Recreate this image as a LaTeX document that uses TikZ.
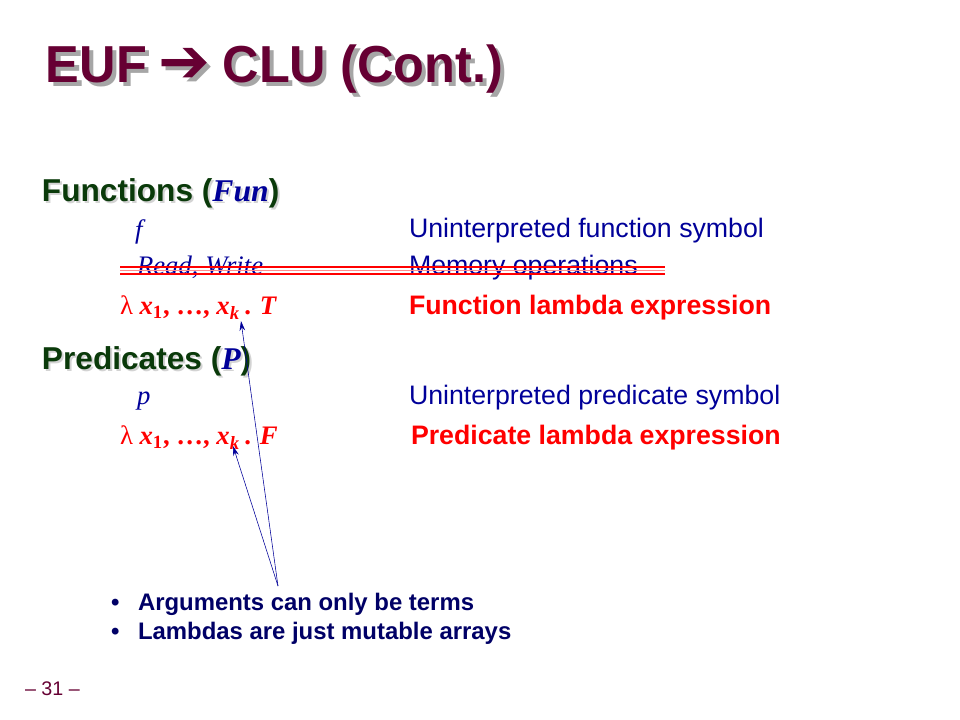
\documentclass[tikz,border=0pt]{standalone}
\usepackage{fontspec}
\setmainfont{Liberation Serif}
\setsansfont{Liberation Sans}
\newfontfamily\arrowfont{DejaVu Sans}
\newfontfamily\titlefont[FakeStretch=0.97]{Liberation Sans}
\usepackage{xcolor}
\usetikzlibrary{positioning,arrows.meta}
\definecolor{titlered}{HTML}{660033}
\definecolor{headgreen}{HTML}{0A3A0A}
\definecolor{navy}{HTML}{000099}
\definecolor{bulletblue}{HTML}{000066}
\definecolor{shadowgray}{HTML}{A6A6A6}
\tikzset{
  txt/.style={anchor=base west, inner sep=0pt, outer sep=0pt},
  titletext/.style={txt, font=\titlefont\bfseries\fontsize{37}{40}\selectfont},
  headtext/.style={txt, font=\sffamily\bfseries\fontsize{22.5}{25}\selectfont},
  symtext/.style={txt, font=\itshape\fontsize{19}{22}\selectfont, text=navy},
  desctext/.style={txt, font=\sffamily\fontsize{19}{22}\selectfont, text=navy},
  lamtext/.style={txt, font=\bfseries\fontsize{19}{22}\selectfont, text=red},
  lamdesc/.style={txt, font=\sffamily\bfseries\fontsize{19}{22}\selectfont, text=red},
  bullettext/.style={txt, font=\sffamily\bfseries\fontsize{17}{20}\selectfont, text=bulletblue},
  pointer/.style={-{Stealth[length=7pt,width=4pt]}, navy, thin}
}
\newcommand{\titlestr}{EUF\hspace{-2pt} {\arrowfont\bfseries\fontsize{44}{44}\selectfont\char"2794}\hspace{-1pt} CLU (Cont.)}
\newcommand{\lamstr}[1]{\textmd{λ} \textit{x}\textsubscript{1}, …, \textit{x}\textsubscript{\textit{k}}\,. \textit{#1}}

\begin{document}
\begin{tikzpicture}[x=0.025cm, y=-0.025cm]
\useasboundingbox[fill=white] (0,0) rectangle (960,720);
% title with shadow
\node[titletext, text=shadowgray] (titleshadow) at (50,87) {\titlestr};
\node[titletext, text=titlered] (title) at (46,83) {\titlestr};
% functions
\node[headtext, text=shadowgray!50] (funshadow) at (44,204) {Functions (\textit{\rmfamily Fun})};
\node[headtext, text=headgreen] (funhead) at (42,202) {Functions (\textcolor{navy}{\rmfamily\itshape Fun})};
\node[symtext] (fsym) at (135,239) {f};
\node[desctext] (fdesc) at (409,238) {Uninterpreted function symbol};
\node[symtext] (rwsym) at (137,275) {Read, Write};
\node[desctext] (rwdesc) at (409,275) {Memory operations};
\draw[red, line width=0.9pt] (120,267) -- (665,267);
\draw[red!45, line width=0.5pt] (120,270.5) -- (665,270.5);
\draw[red, line width=0.9pt] (120,274) -- (665,274);
\node[lamtext] (funlam) at (120,315) {\lamstr{T}};
\node[lamdesc] (funlamdesc) at (409,315) {Function lambda expression};
% predicates
\node[headtext, text=shadowgray!50] (predshadow) at (44,372) {Predicates (\textit{\rmfamily P})};
\node[headtext, text=headgreen] (predhead) at (42,370) {Predicates (\textcolor{navy}{\rmfamily\itshape P})};
\node[symtext] (psym) at (137,405) {p};
\node[desctext] (pdesc) at (409,405) {Uninterpreted predicate symbol};
\node[lamtext] (predlam) at (120,445) {\lamstr{F}};
\node[lamdesc] (predlamdesc) at (411,445) {Predicate lambda expression};
% notes
\node[bullettext] (dotone) at (111,610) {•};
\node[bullettext] (noteone) at (138,610) {Arguments can only be terms};
\node[bullettext] (dottwo) at (111,639) {•};
\node[bullettext] (notetwo) at (138,639) {Lambdas are just mutable arrays};
\coordinate (argsrc) at (278,586);
\coordinate (funk) at (241,321);
\coordinate (predk) at (233,446);
\draw[pointer] (argsrc) -- (funk);
\draw[pointer] (argsrc) -- (predk);
\node[txt, font=\sffamily\fontsize{14}{16}\selectfont, text=titlered] (pagenum) at (25,695) {– 31 –};
\end{tikzpicture}
\end{document}
